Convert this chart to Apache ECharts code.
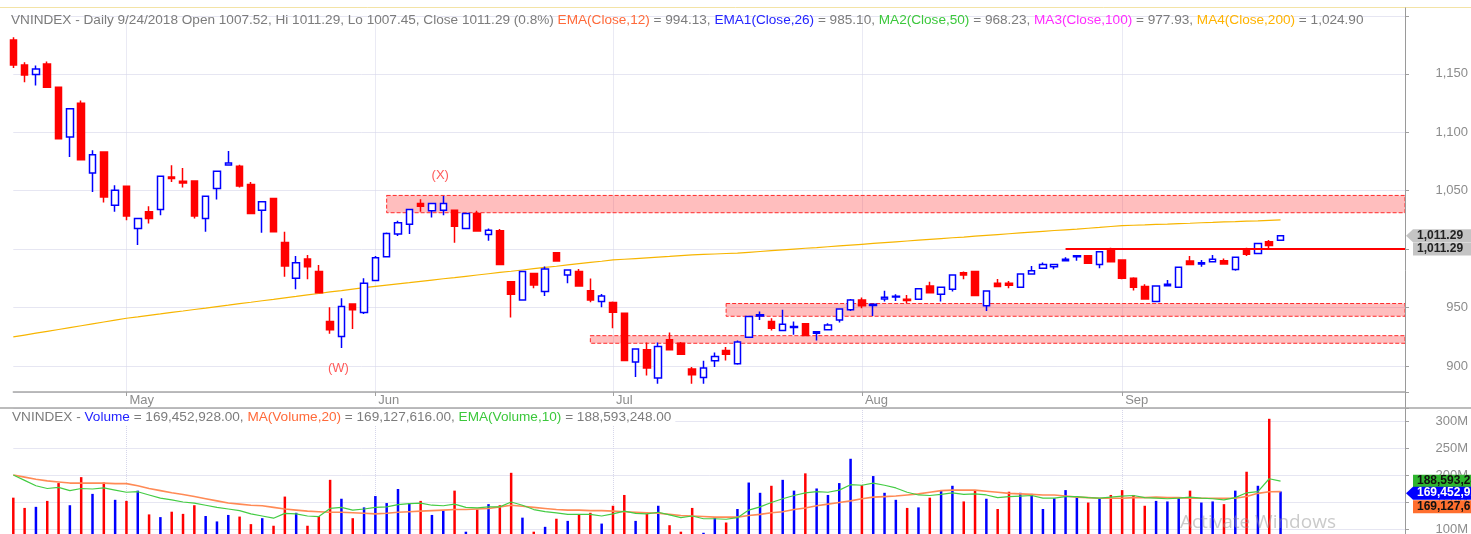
<!DOCTYPE html>
<html>
<head>
<meta charset="utf-8">
<title>VNINDEX Daily</title>
<script src="https://cdn.jsdelivr.net/npm/echarts@6/dist/echarts.min.js"></script>
<style>
    html, body { margin: 0; padding: 0; background: #ffffff; }
    #vnindex-chart { width: 1471px; height: 534px; }
</style>
</head>
<body>
<div id="vnindex-chart"></div>
<script>
// trading days on the chart
var dates = [
    '2018-04-13', '2018-04-16', '2018-04-17', '2018-04-18', '2018-04-19', '2018-04-20', '2018-04-23', '2018-04-24', '2018-04-26', '2018-04-27',
    '2018-05-02', '2018-05-03', '2018-05-04', '2018-05-07', '2018-05-08', '2018-05-09', '2018-05-10', '2018-05-11', '2018-05-14', '2018-05-15',
    '2018-05-16', '2018-05-17', '2018-05-18', '2018-05-21', '2018-05-22', '2018-05-23', '2018-05-24', '2018-05-25', '2018-05-28', '2018-05-29',
    '2018-05-30', '2018-05-31', '2018-06-01', '2018-06-04', '2018-06-05', '2018-06-06', '2018-06-07', '2018-06-08', '2018-06-11', '2018-06-12',
    '2018-06-13', '2018-06-14', '2018-06-15', '2018-06-18', '2018-06-19', '2018-06-20', '2018-06-21', '2018-06-22', '2018-06-25', '2018-06-26',
    '2018-06-27', '2018-06-28', '2018-06-29', '2018-07-02', '2018-07-03', '2018-07-04', '2018-07-05', '2018-07-06', '2018-07-09', '2018-07-10',
    '2018-07-11', '2018-07-12', '2018-07-13', '2018-07-16', '2018-07-17', '2018-07-18', '2018-07-19', '2018-07-20', '2018-07-23', '2018-07-24',
    '2018-07-25', '2018-07-26', '2018-07-27', '2018-07-30', '2018-07-31', '2018-08-01', '2018-08-02', '2018-08-03', '2018-08-06', '2018-08-07',
    '2018-08-08', '2018-08-09', '2018-08-10', '2018-08-13', '2018-08-14', '2018-08-15', '2018-08-16', '2018-08-17', '2018-08-20', '2018-08-21',
    '2018-08-22', '2018-08-23', '2018-08-24', '2018-08-27', '2018-08-28', '2018-08-29', '2018-08-30', '2018-08-31', '2018-09-04', '2018-09-05',
    '2018-09-06', '2018-09-07', '2018-09-10', '2018-09-11', '2018-09-12', '2018-09-13', '2018-09-14', '2018-09-17', '2018-09-18', '2018-09-19',
    '2018-09-20', '2018-09-21', '2018-09-24'
];
// empty slots to the right of the last candle
var emptySlots = 11;

var opens = [
    1178.9, 1157.6, 1149.3, 1158.4, 1138.5, 1095.8, 1124.8, 1065.1, 1083.0, 1037.5,
    1053.8, 1017.6, 1031.9, 1033.8, 1061.7, 1058.0, 1058.3, 1026.2, 1051.8, 1072.0,
    1070.8, 1055.2, 1033.3, 1043.2, 1005.7, 975.0, 991.5, 980.7, 938.0, 925.2,
    953.1, 945.7, 973.0, 993.5, 1012.8, 1021.3, 1039.0, 1032.7, 1033.3, 1033.3,
    1017.6, 1030.4, 1012.5, 1015.6, 972.1, 956.5, 979.2, 963.6, 996.9, 977.8,
    980.7, 964.4, 955.1, 954.2, 945.1, 903.3, 913.8, 889.7, 922.4, 919.5,
    897.3, 890.2, 904.4, 913.3, 901.9, 924.6, 942.8, 938.0, 930.3, 932.9,
    936.0, 928.0, 930.9, 939.4, 948.0, 956.5, 951.7, 957.3, 959.0, 957.0,
    957.0, 968.4, 961.3, 965.6, 979.8, 980.7, 951.4, 970.7, 970.7, 967.3,
    978.7, 983.5, 984.9, 990.0, 993.5, 994.3, 986.9, 999.2, 990.6, 975.0,
    967.9, 955.1, 968.7, 967.3, 989.8, 987.2, 989.2, 990.0, 982.6, 999.7,
    996.3, 1006.3, 1007.52
];
var closes = [
    1157.6, 1149.0, 1154.1, 1138.5, 1094.4, 1120.0, 1076.5, 1080.8, 1044.6, 1050.3,
    1028.4, 1026.2, 1026.2, 1062.3, 1060.3, 1056.6, 1028.4, 1045.2, 1066.5, 1073.7,
    1054.0, 1030.4, 1040.4, 1014.8, 985.5, 988.3, 984.9, 962.7, 930.9, 950.8,
    948.0, 970.7, 992.6, 1013.4, 1022.5, 1033.8, 1036.7, 1039.0, 1039.0, 1019.6,
    1030.4, 1015.4, 1016.2, 986.9, 961.3, 980.7, 969.3, 983.0, 989.8, 982.1,
    968.4, 956.5, 959.9, 946.0, 904.7, 914.4, 898.2, 916.7, 913.8, 910.1,
    892.5, 898.2, 908.1, 910.1, 920.4, 942.3, 943.7, 932.3, 935.7, 933.7,
    926.1, 929.2, 935.1, 948.8, 956.5, 951.4, 952.8, 958.8, 959.6, 955.9,
    966.1, 962.7, 967.3, 977.8, 977.8, 960.2, 964.2, 967.9, 969.0, 978.7,
    981.5, 986.9, 986.9, 991.2, 994.3, 987.8, 997.7, 989.2, 975.0, 967.3,
    957.3, 968.4, 969.8, 984.4, 986.9, 988.3, 991.2, 987.2, 992.9, 995.5,
    1004.8, 1003.0, 1011.29
];
var lows = [
    1155.0, 1142.8, 1139.9, 1137.9, 1094.0, 1078.8, 1076.5, 1048.9, 1039.8, 1031.9,
    1024.7, 1003.4, 1021.9, 1029.0, 1057.4, 1052.6, 1026.2, 1014.8, 1042.4, 1072.0,
    1052.6, 1029.9, 1014.0, 1014.5, 976.4, 965.6, 974.1, 962.2, 927.5, 915.3,
    931.7, 944.5, 972.4, 992.9, 1011.1, 1012.8, 1031.9, 1027.0, 1029.0, 1005.4,
    1017.4, 1015.1, 1007.1, 986.6, 941.4, 955.9, 966.4, 959.9, 989.5, 970.7,
    967.9, 954.5, 950.2, 932.3, 904.5, 890.5, 891.9, 884.8, 913.5, 909.9,
    884.8, 884.8, 899.0, 904.7, 901.0, 924.4, 939.4, 930.3, 930.0, 926.6,
    925.8, 921.8, 930.3, 937.2, 947.1, 949.4, 942.8, 955.1, 955.6, 953.6,
    956.8, 962.5, 955.1, 963.6, 974.1, 960.0, 947.1, 967.7, 966.4, 967.1,
    978.4, 983.3, 982.7, 989.8, 990.0, 987.6, 983.5, 989.0, 974.1, 964.5,
    957.1, 954.9, 967.9, 967.1, 986.7, 984.9, 988.6, 987.0, 981.5, 994.0,
    996.1, 1000.6, 1007.45
];
var highs = [
    1181.2, 1159.8, 1157.0, 1160.4, 1138.8, 1120.6, 1127.1, 1084.5, 1083.3, 1054.6,
    1054.3, 1026.7, 1036.7, 1062.5, 1071.7, 1069.4, 1058.6, 1045.5, 1066.8, 1083.9,
    1072.2, 1057.4, 1041.0, 1043.5, 1014.8, 994.0, 994.9, 986.3, 950.2, 957.9,
    953.7, 975.0, 994.0, 1014.2, 1024.2, 1034.0, 1042.7, 1039.3, 1045.5, 1033.5,
    1030.6, 1032.7, 1017.6, 1017.1, 972.4, 980.9, 979.5, 985.0, 997.1, 982.3,
    983.0, 974.9, 961.6, 955.1, 945.3, 915.0, 920.1, 920.1, 928.6, 920.4,
    899.0, 904.4, 911.6, 916.1, 921.8, 942.5, 946.5, 940.8, 948.0, 938.0,
    936.6, 929.4, 936.6, 949.4, 957.3, 958.5, 953.1, 964.4, 961.3, 960.7,
    966.3, 972.1, 967.5, 978.4, 980.7, 981.2, 964.4, 974.4, 972.7, 978.9,
    985.5, 988.6, 987.1, 992.9, 994.5, 994.5, 998.3, 1001.1, 991.2, 975.8,
    969.8, 968.6, 973.6, 984.6, 994.0, 990.6, 994.9, 992.0, 993.1, 1001.1,
    1005.0, 1007.7, 1011.29
];
// MA4(Close,200)
var ma200 = [
    924.8, 926.4, 928.0, 929.6, 931.2, 932.8, 934.4, 936.0, 937.6, 939.2,
    940.8, 942.0, 943.3, 944.5, 945.8, 947.0, 948.3, 949.5, 950.8, 952.0,
    953.3, 954.5, 955.8, 957.0, 958.3, 959.5, 960.8, 962.0, 963.3, 964.5,
    965.8, 967.0, 968.1, 969.2, 970.3, 971.3, 972.4, 973.5, 974.6, 975.6,
    976.7, 977.8, 978.9, 980.0, 981.0, 982.1, 983.2, 984.3, 985.3, 986.4,
    987.5, 988.6, 989.6, 990.7, 991.3, 991.9, 992.5, 993.1, 993.7, 994.4,
    995.0, 995.4, 995.8, 996.2, 996.5, 997.2, 997.9, 998.6, 999.3, 1000.0,
    1000.7, 1001.3, 1002.0, 1002.7, 1003.4, 1004.1, 1004.8, 1005.5, 1006.2, 1006.9,
    1007.6, 1008.3, 1009.0, 1009.7, 1010.3, 1011.0, 1011.7, 1012.4, 1013.1, 1013.8,
    1014.5, 1015.2, 1015.9, 1016.5, 1017.1, 1017.8, 1018.5, 1019.3, 1020.0, 1020.4,
    1020.7, 1021.1, 1021.4, 1021.8, 1022.1, 1022.5, 1022.8, 1023.2, 1023.5, 1023.9,
    1024.2, 1024.6, 1024.9
];
// volume, millions of shares
var volumes = [
    158, 139, 141, 152, 185, 144, 196, 165, 186, 154,
    152, 171, 127, 122, 132, 128, 144, 124, 114, 126,
    123, 109, 120, 106, 160, 130, 106, 124, 191, 156,
    120, 140, 161, 148, 174, 148, 152, 126, 134, 171,
    95, 136, 146, 144, 204, 121, 95, 104, 119, 115,
    127, 130, 110, 143, 163, 115, 128, 143, 107, 95,
    139, 93, 122, 112, 137, 186, 167, 180, 191, 171,
    203, 175, 163, 185, 230, 181, 198, 167, 154, 139,
    140, 158, 172, 180, 151, 171, 156, 137, 169, 167,
    165, 137, 157, 172, 161, 149, 157, 163, 172, 163,
    143, 152, 151, 159, 171, 149, 151, 146, 171, 206,
    180, 304, 169.45
];
var volMa20 = [
    200, 196, 192, 189, 187, 185, 185, 185, 185, 184,
    184, 180, 175, 171, 167, 164, 160, 156, 152, 148,
    146, 144, 143, 140, 137, 135, 133, 132, 131, 131,
    130, 129, 128, 129, 131, 132, 133, 134, 135, 136,
    136, 137, 138, 141, 144, 142, 140, 138, 136, 135,
    135, 134, 134, 133, 132, 131, 130, 129, 127, 125,
    124, 123, 122, 122, 122, 125, 127, 130, 132, 136,
    139, 143, 146, 149, 152, 156, 159, 160, 161, 163,
    165, 168, 171, 172, 172, 172, 170, 168, 166, 165,
    164, 163, 163, 161, 159, 158, 157, 157, 157, 158,
    158, 159, 158, 158, 157, 157, 157, 157, 157, 160,
    166, 169, 169.13
];
var volEma10 = [
    200, 190, 180, 175, 177, 171, 175, 174, 176, 172,
    168, 169, 163, 157, 154, 150, 148, 144, 140, 137,
    134, 128, 124, 120, 129, 128, 124, 123, 138, 140,
    135, 137, 140, 141, 145, 147, 148, 144, 143, 146,
    140, 139, 141, 141, 150, 144, 136, 132, 130, 127,
    127, 127, 124, 128, 133, 129, 128, 131, 126, 121,
    124, 119, 119, 118, 121, 135, 141, 149, 156, 162,
    167, 169, 168, 172, 182, 181, 185, 181, 176, 168,
    163, 162, 164, 167, 164, 165, 163, 158, 160, 161,
    162, 157, 157, 160, 160, 158, 157, 159, 161, 162,
    158, 157, 156, 157, 159, 157, 156, 154, 158, 167,
    169, 193, 188.59
];
// drawn zones: [first slot, low price, high price]
var zones = [
    [33, 1031.1, 1045.9],
    [63, 942.5, 953.4],
    [51, 919.4, 925.9]
];
// red level line: [first slot, price]
var levelLine = [93, 1000];
// wave labels: [text, slot, price]
var waveLabels = [
    ['(X)', 38, 1062.8],
    ['(W)', 29, 898.3]
];
var monthNames = ['Jan', 'Feb', 'Mar', 'Apr', 'May', 'Jun', 'Jul', 'Aug', 'Sep', 'Oct', 'Nov', 'Dec'];

var categories = dates.slice();
for (var k = 0; k < emptySlots; k++) {
    categories.push('blank' + k);
}
var lastSlot = categories.length - 1;

function isMonthStart(i) {
    return i > 0 && i < dates.length && dates[i].slice(5, 7) !== dates[i - 1].slice(5, 7);
}

var candles = opens.map(function (o, i) {
    return [o, closes[i], lows[i], highs[i]];
});
var volumeBars = volumes.map(function (v, i) {
    return { value: v, itemStyle: { color: closes[i] >= opens[i] ? '#0000ff' : '#ff0000' } };
});

var font = 'Arial, "Liberation Sans", sans-serif';
var gray = '#7c7c7c';
var headerSize = 13.6;

function richText(parts) {
    return parts.map(function (p) { return '{' + p[0] + '|' + p[1] + '}'; }).join('');
}
function richStyle(colors) {
    var out = {};
    Object.keys(colors).forEach(function (key) {
        out[key] = { color: colors[key], fontSize: headerSize, fontFamily: font };
    });
    return out;
}

var priceHeader = richText([
    ['g', 'VNINDEX - Daily 9/24/2018 Open 1007.52, Hi 1011.29, Lo 1007.45, Close 1011.29 (0.8%) '],
    ['o', 'EMA(Close,12)'], ['g', ' = 994.13, '],
    ['b', 'EMA1(Close,26)'], ['g', ' = 985.10, '],
    ['gr', 'MA2(Close,50)'], ['g', ' = 968.23, '],
    ['m', 'MA3(Close,100)'], ['g', ' = 977.93, '],
    ['y', 'MA4(Close,200)'], ['g', ' = 1,024.90']
]);
var volumeHeader = richText([
    ['g', 'VNINDEX - '], ['b', 'Volume'], ['g', ' = 169,452,928.00, '],
    ['o', 'MA(Volume,20)'], ['g', ' = 169,127,616.00, '],
    ['gr', 'EMA(Volume,10)'], ['g', ' = 188,593,248.00']
]);
var headerColors = richStyle({
    g: gray, o: '#ff6a3a', b: '#2424ff', gr: '#3cc83c', m: '#ff2cff', y: '#ffb300'
});

function monthLabel(value) {
    return monthNames[parseInt(value.slice(5, 7), 10) - 1];
}

let option = {
    animation: false,
    backgroundColor: '#ffffff',
    textStyle: { fontFamily: font },
    title: [{
        left: 11,
        top: 13,
        padding: 0,
        text: priceHeader,
        textStyle: { fontSize: headerSize, fontWeight: 'normal', color: gray, rich: headerColors }
    }, {
        left: 10,
        top: 409,
        padding: [1, 4, 1, 2],
        backgroundColor: '#ffffff',
        text: volumeHeader,
        textStyle: { fontSize: headerSize, fontWeight: 'normal', color: gray, rich: headerColors }
    }],
    grid: [
        { left: 13.3, right: 66, top: 16.5, bottom: 142, outerBoundsMode: 'none' },
        { left: 13.3, right: 66, top: 408, height: 175, outerBoundsMode: 'none' }
    ],
    xAxis: [{
        type: 'category',
        gridIndex: 0,
        data: categories,
        boundaryGap: false,
        axisLine: { lineStyle: { color: '#a6a6a6', width: 1.5 } },
        axisTick: { interval: isMonthStart, length: 4, lineStyle: { color: '#a0a0a0' } },
        axisLabel: {
            interval: isMonthStart,
            formatter: monthLabel,
            align: 'left',
            padding: [0, 0, 0, 3],
            margin: 2,
            color: '#8c8c8c',
            fontSize: 13
        },
        splitLine: { show: true, interval: isMonthStart, lineStyle: { color: '#d6d6ea', type: 'dotted' } }
    }, {
        type: 'category',
        gridIndex: 1,
        data: categories,
        boundaryGap: false,
        position: 'top',
        axisLine: { lineStyle: { color: '#a6a6a6', width: 1.5 } },
        axisTick: { show: false },
        axisLabel: { show: false },
        splitLine: { show: true, interval: isMonthStart, lineStyle: { color: '#d6d6ea', type: 'dotted' } }
    }],
    yAxis: [{
        type: 'value',
        gridIndex: 0,
        position: 'right',
        min: 877.7,
        max: 1199,
        minInterval: 50,
        maxInterval: 50,
        axisLine: { show: false },
        axisTick: { show: true, length: 4, lineStyle: { color: '#a0a0a0' } },
        axisLabel: {
            align: 'right',
            margin: 63,
            color: '#8c8c8c',
            fontSize: 13,
            formatter: function (v) {
                return v % 50 === 0 ? v.toLocaleString('en-US') : '';
            }
        },
        splitLine: { lineStyle: { color: '#e6e6f2' } }
    }, {
        type: 'value',
        gridIndex: 1,
        position: 'right',
        min: 0,
        max: 324,
        minInterval: 50,
        maxInterval: 50,
        axisLine: { show: false },
        axisTick: { show: true, length: 4, lineStyle: { color: '#a0a0a0' } },
        axisLabel: {
            align: 'right',
            margin: 63,
            color: '#8c8c8c',
            fontSize: 13,
            formatter: function (v) {
                return v % 50 === 0 ? v + 'M' : '';
            }
        },
        splitLine: { lineStyle: { color: '#e6e6f2' } }
    }],
    series: [{
        name: 'MA4(Close,200)',
        type: 'line',
        xAxisIndex: 0,
        yAxisIndex: 0,
        data: ma200,
        symbol: 'none',
        z: 1,
        lineStyle: { color: '#f7b500', width: 1.2 }
    }, {
        name: 'VNINDEX',
        type: 'candlestick',
        xAxisIndex: 0,
        yAxisIndex: 0,
        data: candles,
        barWidth: 7,
        clip: false,
        itemStyle: {
            color: '#ffffff',
            color0: '#ff0000',
            borderColor: '#0000ff',
            borderColor0: '#ff0000',
            borderWidth: 1.5
        },
        markArea: {
            silent: true,
            itemStyle: {
                color: 'rgba(255, 40, 40, 0.3)',
                borderColor: '#ff2a2a',
                borderWidth: 1,
                borderType: 'dashed'
            },
            data: zones.map(function (z) {
                return [{ xAxis: z[0], yAxis: z[2] }, { xAxis: lastSlot, yAxis: z[1] }];
            })
        },
        markLine: {
            silent: true,
            symbol: 'none',
            label: { show: false },
            lineStyle: { color: '#ff0000', width: 2, type: 'solid' },
            data: [[{ xAxis: levelLine[0], yAxis: levelLine[1] }, { xAxis: lastSlot, yAxis: levelLine[1] }]]
        },
        markPoint: {
            silent: true,
            symbol: 'circle',
            symbolSize: 1,
            itemStyle: { color: 'rgba(0,0,0,0)' },
            data: waveLabels.map(function (w) {
                return {
                    coord: [w[1], w[2]],
                    label: {
                        show: true,
                        position: 'inside',
                        offset: [-3, 0],
                        formatter: w[0],
                        color: '#ff5a5a',
                        fontSize: 13
                    }
                };
            })
        }
    }, {
        name: 'Volume',
        type: 'bar',
        xAxisIndex: 1,
        yAxisIndex: 1,
        data: volumeBars,
        barWidth: 2.5,
        clip: false
    }, {
        name: 'MA(Volume,20)',
        type: 'line',
        xAxisIndex: 1,
        yAxisIndex: 1,
        data: volMa20,
        symbol: 'none',
        lineStyle: { color: '#ff8a55', width: 1.6 }
    }, {
        name: 'EMA(Volume,10)',
        type: 'line',
        xAxisIndex: 1,
        yAxisIndex: 1,
        data: volEma10,
        symbol: 'none',
        lineStyle: { color: '#44cc44', width: 1.2 }
    }]
};

var myChart = echarts.init(document.getElementById('vnindex-chart'));
myChart.setOption(option);

// value tags on the right axis
function tag(y, text, fill, textColor, arrow) {
    var x0 = 1413, x1 = 1471, h = 6.5;
    var points = arrow
        ? [[1406, y], [x0, y - h], [x1, y - h], [x1, y + h], [x0, y + h]]
        : [[x0, y - h], [x1, y - h], [x1, y + h], [x0, y + h]];
    return [{
        type: 'polygon',
        shape: { points: points },
        style: { fill: fill },
        z: 100
    }, {
        type: 'text',
        x: 1417,
        y: y,
        style: { text: text, fill: textColor, font: 'bold 12px ' + font, verticalAlign: 'middle' },
        z: 101
    }];
}

var last = dates.length - 1;
var closeY = myChart.convertToPixel({ yAxisIndex: 0 }, closes[last]);
var levelY = myChart.convertToPixel({ yAxisIndex: 0 }, levelLine[1]);
var emaY = myChart.convertToPixel({ yAxisIndex: 1 }, volEma10[last]);
var volY = Math.max(myChart.convertToPixel({ yAxisIndex: 1 }, volumes[last]), emaY + 12);
var maY = Math.max(myChart.convertToPixel({ yAxisIndex: 1 }, volMa20[last]), volY + 13.5);

var graphics = [{
    type: 'line',
    shape: { x1: 0, y1: 7.5, x2: 1471, y2: 7.5 },
    style: { stroke: '#f3e3a6', lineWidth: 1 },
    z: 50
}, {
    type: 'line',
    shape: { x1: 1405.5, y1: 7.5, x2: 1405.5, y2: 534 },
    style: { stroke: '#9a9a9a', lineWidth: 1 },
    z: 50
}, {
    type: 'line',
    shape: { x1: 0, y1: 408, x2: 1471, y2: 408 },
    style: { stroke: '#a6a6a6', lineWidth: 1.5 },
    z: 50
}, {
    type: 'text',
    x: 1180,
    y: 513,
    style: { text: 'Activate Windows', fill: 'rgba(150, 150, 150, 0.5)', font: '19px "Open Sans", sans-serif' },
    z: 120
}];
graphics = graphics
    .concat(tag(closeY, closes[last].toLocaleString('en-US', { minimumFractionDigits: 2 }), '#c4c4c4', '#222222', true))
    .concat(tag(levelY, closes[last].toLocaleString('en-US', { minimumFractionDigits: 2 }), '#c4c4c4', '#222222', false))
    .concat(tag(emaY, '188,593,248', '#2fb52f', '#111111', false))
    .concat(tag(volY, '169,452,928', '#0000ff', '#ffffff', true))
    .concat(tag(maY, '169,127,616', '#ff6f2e', '#111111', false));

myChart.setOption({ graphic: graphics });
</script>
</body>
</html>
